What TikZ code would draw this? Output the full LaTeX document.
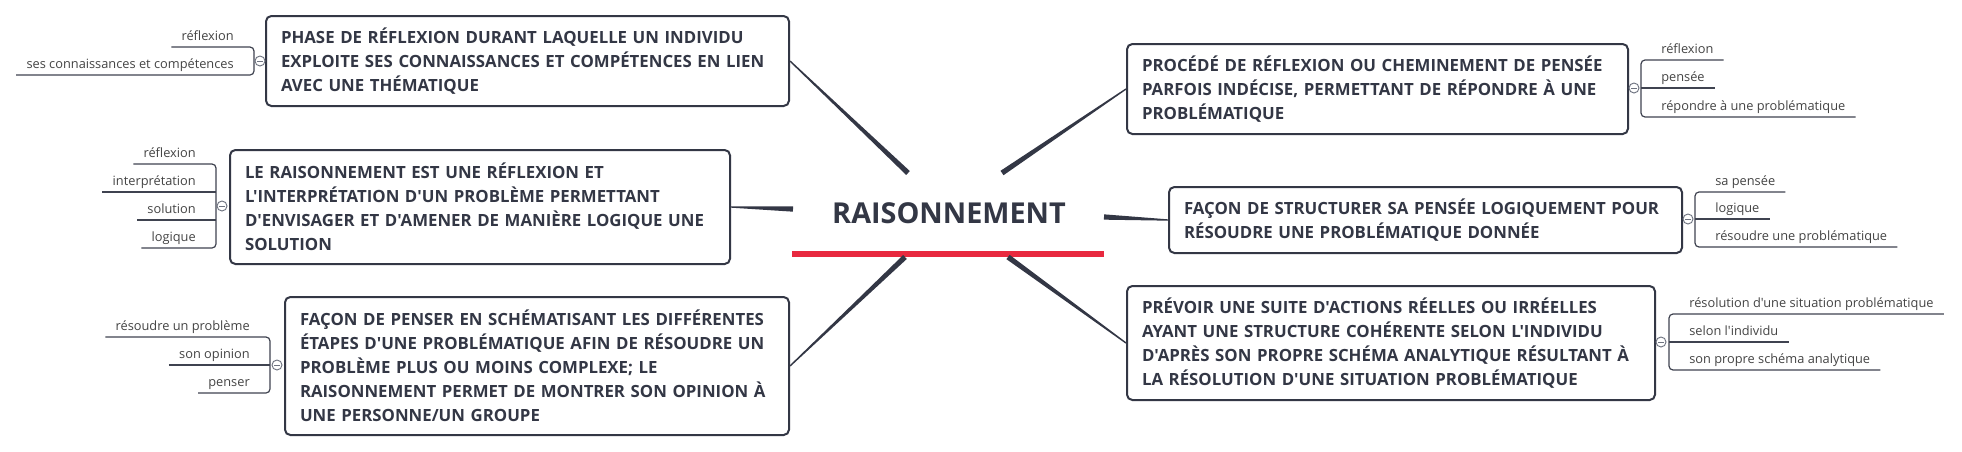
\documentclass[tikz,border=0pt]{standalone}
\usepackage{fontspec}
\setmainfont{Open Sans}[Ligatures=TeXOff]
\usetikzlibrary{calc}
\definecolor{ink}{HTML}{333745}
\definecolor{redline}{HTML}{E8293F}
\definecolor{subink}{HTML}{444444}
\definecolor{subline}{HTML}{3F4350}
\definecolor{knob}{HTML}{6E7380}
\tikzset{
 mainbox/.style={draw=ink, line width=1.5pt, rounded corners=4pt, fill=white, anchor=north west,
   inner xsep=11.25pt, inner ysep=0pt, align=left, text=ink,
   font=\fontsize{12.6}{18}\selectfont\bfseries},
 subtxt/.style={inner xsep=7.5pt, inner ysep=0pt, text=subink, font=\fontsize{9.6}{11}\selectfont},
 sub/.style={draw=subline, line width=0.9pt},
 collapse/.style={circle, draw=knob, line width=0.7pt, fill=white, minimum size=7.5pt, inner sep=0pt,
   path picture={\draw[knob, line width=0.7pt] ([xshift=1.6pt]path picture bounding box.west) -- ([xshift=-1.6pt]path picture bounding box.east);}},
}
\newcommand\taper[2]{\fill[ink] ($(#1)!2pt!90:(#2)$) -- ($(#2)!0.5pt!-90:(#1)$) -- ($(#2)!0.5pt!90:(#1)$) -- ($(#1)!2pt!-90:(#2)$) -- cycle;}
\newcommand\litem[4]{\coordinate (#1u) at (#2,#3); \node[subtxt, anchor=base east] (#1) at (#2-10,#3-7) {#4};}
\newcommand\ritem[4]{\coordinate (#1u) at (#2,#3); \node[subtxt, anchor=base west] (#1) at (#2+10,#3-7) {#4};}
\begin{document}
\begin{tikzpicture}[x=0.75pt,y=-0.75pt]
\useasboundingbox (0,0) rectangle (1962,451);
\fill[white] (0,0) rectangle (1962,451);

% central topic
\node[inner sep=0pt, text=ink, font=\fontsize{21.6}{26}\selectfont\bfseries] (title) at (949,213) {RAISONNEMENT};
\draw[redline, line width=4.5pt] (792,254) -- (1104,254);
\coordinate (c1) at (908,173);
\coordinate (c2) at (793,209);
\coordinate (c3) at (905,257);
\coordinate (c4) at (1002,173);
\coordinate (c5) at (1104,217);
\coordinate (c6) at (1008,257);

% main boxes
\node[mainbox, minimum width=392.25pt, minimum height=67.5pt, text width=369.75pt] (L1) at (265,15)
 {PHASE DE RÉFLEXION DURANT LAQUELLE UN INDIVIDU\\EXPLOITE SES CONNAISSANCES ET COMPÉTENCES EN LIEN\\AVEC UNE THÉMATIQUE};
\node[mainbox, minimum width=375pt, minimum height=85.5pt, text width=352.5pt] (L2) at (229,149)
 {LE RAISONNEMENT EST UNE RÉFLEXION ET\\L'INTERPRÉTATION D'UN PROBLÈME PERMETTANT\\D'ENVISAGER ET D'AMENER DE MANIÈRE LOGIQUE UNE\\SOLUTION};
\node[mainbox, minimum width=378pt, minimum height=103.5pt, text width=355.5pt] (L3) at (284,296)
 {FAÇON DE PENSER EN SCHÉMATISANT LES DIFFÉRENTES\\ÉTAPES D'UNE PROBLÉMATIQUE AFIN DE RÉSOUDRE UN\\PROBLÈME PLUS OU MOINS COMPLEXE; LE\\RAISONNEMENT PERMET DE MONTRER SON OPINION À\\UNE PERSONNE/UN GROUPE};
\node[mainbox, minimum width=375.75pt, minimum height=67.5pt, text width=353.25pt] (R1) at (1126,43)
 {PROCÉDÉ DE RÉFLEXION OU CHEMINEMENT DE PENSÉE\\PARFOIS INDÉCISE, PERMETTANT DE RÉPONDRE À UNE\\PROBLÉMATIQUE};
\node[mainbox, minimum width=384.75pt, minimum height=49.5pt, text width=362.25pt] (R2) at (1168,186)
 {FAÇON DE STRUCTURER SA PENSÉE LOGIQUEMENT POUR\\RÉSOUDRE UNE PROBLÉMATIQUE DONNÉE};
\node[mainbox, minimum width=396pt, minimum height=85.5pt, text width=373.5pt] (R3) at (1126,285)
 {PRÉVOIR UNE SUITE D'ACTIONS RÉELLES OU IRRÉELLES\\AYANT UNE STRUCTURE COHÉRENTE SELON L'INDIVIDU\\D'APRÈS SON PROPRE SCHÉMA ANALYTIQUE RÉSULTANT À\\LA RÉSOLUTION D'UNE SITUATION PROBLÉMATIQUE};

% connectors
\taper{c1}{L1.east}
\taper{c2}{L2.east}
\taper{c3}{L3.east}
\taper{c4}{R1.west}
\taper{c5}{R2.west}
\taper{c6}{R3.west}

% L1 sub-items
\litem{l1a}{254}{47}{réflexion}
\litem{l1b}{254}{75}{ses connaissances et compétences}
\draw[sub, rounded corners=3pt] (l1a.west |- l1au) -- (l1au) -- (l1bu) -- (l1b.west |- l1bu);
\node[collapse] (l1k) at (260,61) {};

% L2 sub-items
\litem{l2a}{216}{164}{réflexion}
\litem{l2b}{216}{192}{interprétation}
\litem{l2c}{216}{220}{solution}
\litem{l2d}{216}{248}{logique}
\draw[sub, rounded corners=3pt] (l2a.west |- l2au) -- (l2au) -- (l2du) -- (l2d.west |- l2du);
\draw[sub] (l2b.west |- l2bu) -- (l2bu);
\draw[sub] (l2c.west |- l2cu) -- (l2cu);
\node[collapse] (l2k) at (222,206) {};

% L3 sub-items
\litem{l3a}{270}{337}{résoudre un problème}
\litem{l3b}{270}{365}{son opinion}
\litem{l3c}{270}{393}{penser}
\draw[sub, rounded corners=3pt] (l3a.west |- l3au) -- (l3au) -- (l3cu) -- (l3c.west |- l3cu);
\draw[sub] (l3b.west |- l3bu) -- (l3bu);
\node[collapse] (l3k) at (277,365) {};

% R1 sub-items
\ritem{r1a}{1641}{60}{réflexion}
\ritem{r1b}{1641}{88}{pensée}
\ritem{r1c}{1641}{117}{répondre à une problématique}
\draw[sub, rounded corners=3pt] (r1a.east |- r1au) -- (r1au) -- (r1cu) -- (r1c.east |- r1cu);
\draw[sub] (r1bu) -- (r1b.east |- r1bu);
\node[collapse] (r1k) at (1634,88) {};

% R2 sub-items
\ritem{r2a}{1695}{192}{sa pensée}
\ritem{r2b}{1695}{219}{logique}
\ritem{r2c}{1695}{247}{résoudre une problématique}
\draw[sub, rounded corners=3pt] (r2a.east |- r2au) -- (r2au) -- (r2cu) -- (r2c.east |- r2cu);
\draw[sub] (r2bu) -- (r2b.east |- r2bu);
\node[collapse] (r2k) at (1688,219) {};

% R3 sub-items
\ritem{r3a}{1669}{314}{résolution d'une situation problématique}
\ritem{r3b}{1669}{342}{selon l'individu}
\ritem{r3c}{1669}{370}{son propre schéma analytique}
\draw[sub, rounded corners=3pt] (r3a.east |- r3au) -- (r3au) -- (r3cu) -- (r3c.east |- r3cu);
\draw[sub] (r3bu) -- (r3b.east |- r3bu);
\node[collapse] (r3k) at (1661,342) {};
\end{tikzpicture}
\end{document}
